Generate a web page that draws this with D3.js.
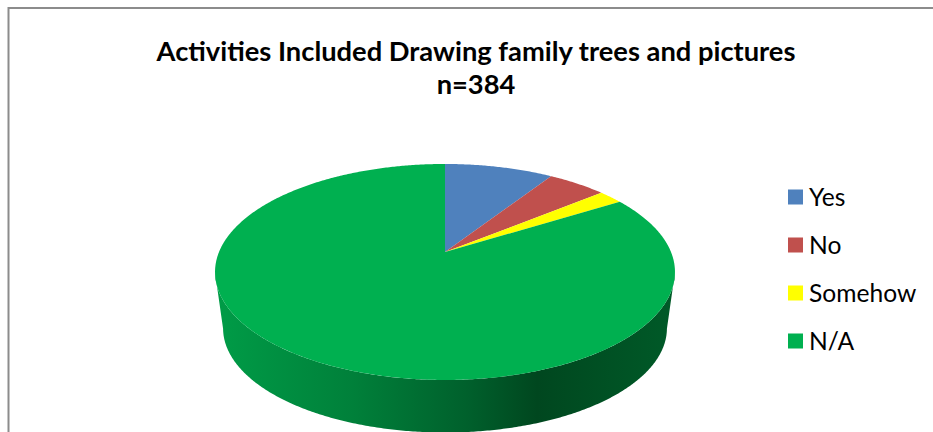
<!DOCTYPE html>
<html>
<head>
<meta charset="utf-8">
<script src="https://cdn.jsdelivr.net/npm/d3@7"></script>
<style>
  html, body { margin: 0; padding: 0; background: #fff; overflow: hidden; }
  svg { display: block; }
  text { font-family: Lato, "Open Sans", sans-serif; fill: #000; }
</style>
</head>
<body>
<svg id="chart" width="933" height="432"></svg>
<script>
const categories = ["Yes", "No", "Somehow", "N/A"];
const counts = [35, 19, 8, 322];
const colors = ["#4f81bd", "#c0504d", "#ffff00", "#00b050"];
const titleLines = ["Activities Included Drawing family trees and pictures", "n=384"];

const svg = d3.select("#chart");

// Chart frame, open past the right and bottom edges of the page
svg.append("path")
  .attr("d", "M8.5,440V8H940")
  .attr("fill", "none")
  .attr("stroke", "#8c8c8c")
  .attr("stroke-width", 2);

// Title
svg.append("g").selectAll("text")
  .data(titleLines)
  .join("text")
  .attr("x", 476)
  .attr("y", (d, i) => 61 + i * 33)
  .attr("text-anchor", "middle")
  .attr("font-size", 27.3)
  .attr("font-weight", 700)
  .text(d => d);

// Perspective projection of a unit disc onto the page: the hub sits above the
// visual centre of the ellipse, as it does in a tilted 3D pie.
const hub = { x: 445, y: 252 };
const tilt = 0.185, scaleX = 226, scaleY = 104.3;
function project(angle, shrink = 1, drop = 0) {
  const u = Math.sin(angle), v = -Math.cos(angle);
  const w = 1 - tilt * v;
  return [hub.x + shrink * scaleX * u / w, hub.y + drop + shrink * scaleY * v / w];
}

const pie = d3.pie().sort(null).value(d => d)(counts);
const arcStep = Math.PI / 360;
const sampleArc = (a0, a1) => d3.range(a0, a1, arcStep).concat([a1]);
const line = d3.line();

// Side wall gradient across the visible front of the N/A slice
const defs = svg.append("defs");
const wallGradient = defs.append("linearGradient")
  .attr("id", "wallShade")
  .attr("gradientUnits", "userSpaceOnUse")
  .attr("x1", 215).attr("x2", 675).attr("y1", 0).attr("y2", 0);
[[0, "#009c47"], [0.3, "#00803a"], [0.55, "#00602c"], [0.7, "#00471f"], [1, "#005a28"]]
  .forEach(([o, c]) => wallGradient.append("stop").attr("offset", o).attr("stop-color", c));

// Wall: lower rim between the silhouette tangents, closed along the top rim
const wallDrop = 57, wallShrink = 0.965;
const frontAngles = sampleArc(Math.PI * 0.5 + 0.19, Math.PI * 1.5 - 0.19);
const lowerRim = frontAngles.map(a => project(a, wallShrink, wallDrop));
const upperRim = frontAngles.slice().reverse().map(a => project(a));
svg.append("path")
  .attr("d", line(lowerRim.concat(upperRim)) + "Z")
  .attr("fill", "url(#wallShade)");

// Top face slices
svg.append("g").selectAll("path")
  .data(pie)
  .join("path")
  .attr("d", d => line([[hub.x, hub.y]].concat(sampleArc(d.startAngle, d.endAngle).map(a => project(a)))) + "Z")
  .attr("fill", (d, i) => colors[i]);

// Legend
const legendY = d3.scalePoint().domain(categories).range([197, 341]);
const legend = svg.append("g").selectAll("g")
  .data(categories)
  .join("g")
  .attr("transform", d => `translate(788,${legendY(d)})`);
legend.append("rect")
  .attr("y", -7.5).attr("width", 15).attr("height", 15)
  .attr("fill", (d, i) => colors[i]);
legend.append("text")
  .attr("x", 21).attr("y", 9)
  .attr("font-size", 24.6)
  .text(d => d);
</script>
</body>
</html>
